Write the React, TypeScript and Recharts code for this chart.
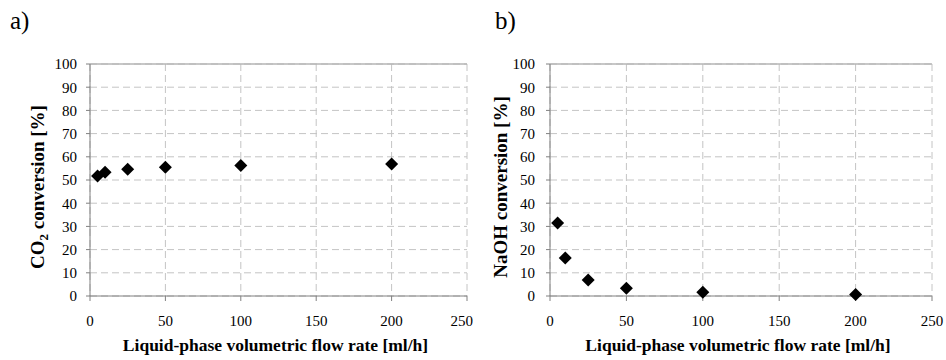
import {
  ScatterChart,
  Scatter,
  XAxis,
  YAxis,
  CartesianGrid,
  ReferenceLine,
  Label,
} from "recharts";

const flowRates = [5, 10, 25, 50, 100, 200];
const co2Conversion = [51.7, 53.3, 54.6, 55.5, 56.3, 56.9];
const naohConversion = [31.5, 16.4, 6.9, 3.3, 1.6, 0.7];
const xTicks = [0, 50, 100, 150, 200, 250];
const yTicks = [0, 10, 20, 30, 40, 50, 60, 70, 80, 90, 100];

const co2Data = flowRates.map((x, i) => ({ x, y: co2Conversion[i] }));
const naohData = flowRates.map((x, i) => ({ x, y: naohConversion[i] }));

const FONT = "Liberation Serif, Times New Roman, serif";
const tickStyle = { fill: "#000", fontSize: 15, fontFamily: FONT };

const Diamond = (props: any) => {
  const { cx, cy } = props;
  const r = 6.5;
  return (
    <polygon
      points={`${cx},${cy - r} ${cx + r},${cy} ${cx},${cy + r} ${cx - r},${cy}`}
      fill="#000"
    />
  );
};

function XTitle({ viewBox }: any) {
  return (
    <text
      x={viewBox.x + viewBox.width / 2 - 3}
      y={viewBox.y + 55}
      textAnchor="middle"
      fontFamily={FONT}
      fontSize={17.5}
      fontWeight="bold"
      fill="#000"
    >
      Liquid-phase volumetric flow rate [ml/h]
    </text>
  );
}

function YTitle({ viewBox, offsetX, sub }: any) {
  const cx = viewBox.x + offsetX;
  const cy = viewBox.y + viewBox.height / 2 + 7;
  return (
    <text
      transform={`translate(${cx}, ${cy}) rotate(-90)`}
      textAnchor="middle"
      fontFamily={FONT}
      fontSize={19}
      fontWeight="bold"
      fill="#000"
    >
      {sub ? (
        <>
          CO
          <tspan dy={4} fontSize={13}>
            2
          </tspan>
          <tspan dy={-4}> conversion [%]</tspan>
        </>
      ) : (
        "NaOH conversion [%]"
      )}
    </text>
  );
}

function Panel({
  data,
  yAxisWidth,
  rightMargin,
  labelX,
  tickGap,
  sub,
}: {
  data: { x: number; y: number }[];
  yAxisWidth: number;
  rightMargin: number;
  labelX: number;
  tickGap: number;
  sub: boolean;
}) {
  return (
    <ScatterChart
      width={473}
      height={360}
      margin={{ top: 64, right: rightMargin, left: 0, bottom: 0 }}
    >
      <CartesianGrid stroke="#c4c4c4" strokeDasharray="7 4" />
      <ReferenceLine y={100} stroke="#b4b4b4" strokeWidth={1.5} />
      <XAxis
        type="number"
        dataKey="x"
        domain={[0, 250]}
        ticks={xTicks}
        tick={tickStyle}
        tickSize={5}
        tickMargin={14}
        axisLine={{ stroke: "#808080" }}
        tickLine={{ stroke: "#808080" }}
        height={64}
      >
        <Label content={<XTitle />} />
      </XAxis>
      <YAxis
        type="number"
        dataKey="y"
        domain={[0, 100]}
        ticks={yTicks}
        tick={tickStyle}
        tickSize={4}
        tickMargin={tickGap}
        axisLine={{ stroke: "#808080" }}
        tickLine={{ stroke: "#808080" }}
        width={yAxisWidth}
        interval={0}
      >
        <Label content={<YTitle offsetX={labelX} sub={sub} />} />
      </YAxis>
      <Scatter data={data} shape={<Diamond />} isAnimationActive={false} />
    </ScatterChart>
  );
}

export default function App() {
  return (
    <div
      style={{
        position: "absolute",
        left: 0,
        top: 0,
        width: 946,
        height: 360,
        background: "#fff",
        fontFamily: FONT,
      }}
    >
      <div style={{ position: "absolute", left: 10, top: 7, fontSize: 25 }}>a)</div>
      <div style={{ position: "absolute", left: 495, top: 7, fontSize: 25 }}>b)</div>
      <div style={{ position: "absolute", left: 0, top: 0 }}>
        <Panel data={co2Data} yAxisWidth={90} rightMargin={6} labelX={44} tickGap={9} sub={true} />
      </div>
      <div style={{ position: "absolute", left: 473, top: 0 }}>
        <Panel data={naohData} yAxisWidth={77} rightMargin={14} labelX={34} tickGap={11} sub={false} />
      </div>
    </div>
  );
}
